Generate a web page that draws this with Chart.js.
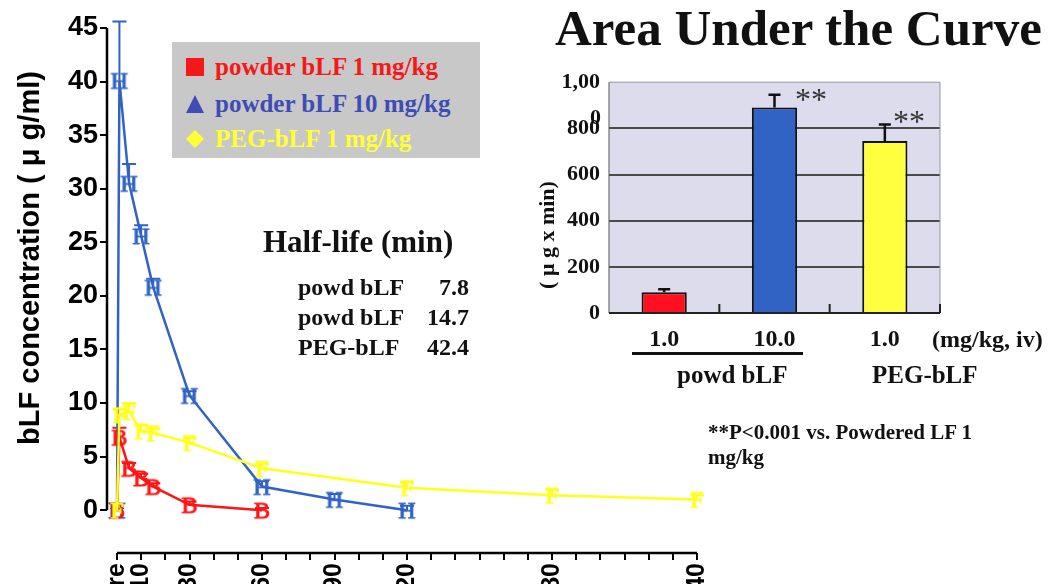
<!DOCTYPE html>
<html lang="en">
<head>
<meta charset="UTF-8">
<title>bLF concentration / AUC</title>
<script src="https://cdn.jsdelivr.net/npm/chart.js"></script>
<style>
html, body { margin: 0; padding: 0; background: #fff; }
#stage { position: relative; width: 1050px; height: 584px; overflow: hidden; background: #fff; }
#stage canvas { position: absolute; }
.t { position: absolute; white-space: nowrap; font-family: "Liberation Serif", "Times New Roman", serif; font-weight: bold; color: #111; }
#legendBox { position: absolute; left: 172px; top: 42px; width: 308px; height: 116px; background: #c8c8c8; }
.mk { position: absolute; }
</style>
</head>
<body>
<div id="stage">
  <canvas id="flowChart" width="1050" height="610" style="left:0;top:0;width:1050px;height:610px"></canvas>
  <canvas id="aucChart" width="450" height="300" style="left:530px;top:60px;width:450px;height:300px"></canvas>

  <div id="legendBox"></div>
  <div id="legendRows"></div>

  <div class="t" style="left:555px;top:3px;font-size:51px;line-height:51px;">Area Under the Curve</div>

  <div class="t" style="left:263px;top:226px;font-size:31px;line-height:31px;">Half-life (min)</div>
  <div id="halfLife"></div>

  <div class="t" style="left:590px;top:106px;font-size:22px;line-height:22px;">0</div>
  <div class="t" style="left:795px;top:83px;font-size:32px;line-height:32px;font-weight:normal;color:#333;">**</div>
  <div class="t" style="left:893px;top:105px;font-size:32px;line-height:32px;font-weight:normal;color:#333;">**</div>
  <div class="t" style="left:932px;top:327px;font-size:24px;line-height:24px;">(mg/kg, iv)</div>
  <div style="position:absolute;left:632px;top:352px;width:171px;height:3px;background:#111;"></div>
  <div class="t" style="left:677px;top:362px;font-size:25px;line-height:25px;">powd bLF</div>
  <div class="t" style="left:872px;top:362px;font-size:25px;line-height:25px;">PEG-bLF</div>
  <div class="t" style="left:708px;top:420px;font-size:21px;line-height:25px;">**P&lt;0.001 vs. Powdered LF 1<br>mg/kg</div>
</div>

<script>
// time course (min) and bLF concentration (ug/ml), mean and error
const redTimes = [0, 1, 5, 10, 15, 30, 60];
const redValues = [0, 6.8, 3.9, 3.0, 2.2, 0.5, 0];
const redErrors = [0.2, 0.9, 0.5, 0.4, 0.3, 0.3, 0.2];

const blueTimes = [0, 1, 5, 10, 15, 30, 60, 90, 120];
const blueValues = [0, 40.1, 30.5, 25.6, 20.8, 10.7, 2.2, 1.0, 0];
const blueErrors = [0.3, 5.5, 1.8, 1.0, 0.8, 0.4, 0.5, 0.5, 0.4];

const pegTimes = [0, 1, 5, 10, 15, 30, 60, 120, 180, 240];
const pegValues = [0, 8.9, 9.2, 7.4, 7.2, 6.3, 3.9, 2.1, 1.4, 1.0];
const pegErrors = [0.3, 0.5, 0.8, 0.5, 0.4, 0.4, 0.4, 0.5, 0.5, 0.4];

const seriesNames = ['powder bLF 1 mg/kg', 'powder bLF 10 mg/kg', 'PEG-bLF 1 mg/kg'];

// axis ticks
const xTickValues = [0, 10, 20, 30, 40, 50, 60, 70, 80, 90, 100, 110, 120, 130, 140, 150, 160, 170, 180, 190, 200, 210, 220, 230, 240];
const labeledTimes = [0, 10, 30, 60, 90, 120, 180, 240];
const labeledText = ['pre', '10', '30', '60', '90', '120', '180', '240'];
const yTickValues = [0, 5, 10, 15, 20, 25, 30, 35, 40, 45];

// half-life table
const halfLifeNames = ['powd bLF', 'powd bLF', 'PEG-bLF'];
const halfLifeValues = ['7.8', '14.7', '42.4'];

// AUC inset
const aucDoses = ['1.0', '10.0', '1.0'];
const aucValues = [90, 890, 745];
const aucErrors = [13, 56, 72];

const RED = '#ff1414', BLUE = '#3163c4', YELLOW = '#ffff1e';

// legend (html)
const legendColors = ['#f51818', '#3d4db5', '#ffff33'];
const legendShapes = ['polygon(0 0,100% 0,100% 100%,0 100%)', 'polygon(50% 0,100% 100%,0 100%)', 'polygon(50% 0,100% 50%,50% 100%,0 50%)'];
const legendRows = document.getElementById('legendRows');
seriesNames.forEach((name, i) => {
  const top = [54, 91, 126][i];
  legendRows.insertAdjacentHTML('beforeend',
    `<div class="mk" style="left:186px;top:${top + 4}px;width:18px;height:18px;background:${legendColors[i]};clip-path:${legendShapes[i]}"></div>` +
    `<div class="t" style="left:215px;top:${top}px;font-size:25px;line-height:25px;color:${legendColors[i]}">${name}</div>`);
});

const halfLife = document.getElementById('halfLife');
halfLifeNames.forEach((name, i) => {
  const top = 275 + i * 30;
  halfLife.insertAdjacentHTML('beforeend',
    `<div class="t" style="left:298px;top:${top}px;font-size:24px;line-height:24px;">${name}</div>` +
    `<div class="t" style="left:409px;width:60px;text-align:right;top:${top}px;font-size:24px;line-height:24px;">${halfLifeValues[i]}</div>`);
});

// letter markers, as they appear in the figure
function letterMarker(ch, color) {
  const c = document.createElement('canvas');
  c.width = 24; c.height = 26;
  const g = c.getContext('2d');
  g.font = '24px "Liberation Serif"';
  g.fillStyle = color;
  g.strokeStyle = color;
  g.lineWidth = 0.9;
  g.textAlign = 'center';
  g.fillText(ch, 12, 21);
  g.strokeText(ch, 12, 21);
  return c;
}

// upper error bars
const errorBars = {
  id: 'errorBars',
  beforeDatasetsDraw(chart) {
    const { ctx, scales: { x, y } } = chart;
    chart.data.datasets.forEach(ds => {
      ctx.save();
      ctx.strokeStyle = ds.borderColor;
      ctx.lineWidth = 2;
      ds.data.forEach((p, i) => {
        const px = x.getPixelForValue(p.x);
        const top = y.getPixelForValue(p.y + ds.errors[i]);
        ctx.beginPath();
        ctx.moveTo(px, y.getPixelForValue(p.y)); ctx.lineTo(px, top);
        ctx.moveTo(px - 7, top); ctx.lineTo(px + 7, top);
        ctx.stroke();
      });
      ctx.restore();
    });
  }
};

const mainAxes = {
  id: 'mainAxes',
  afterDraw(chart) {
    const { ctx, chartArea, scales: { x, y } } = chart;
    ctx.save();
    ctx.strokeStyle = '#000';
    ctx.lineWidth = 2.5;
    ctx.beginPath();
    ctx.moveTo(chartArea.left, y.getPixelForValue(45));
    ctx.lineTo(chartArea.left, y.getPixelForValue(0));
    ctx.moveTo(x.getPixelForValue(0), chartArea.bottom);
    ctx.lineTo(x.getPixelForValue(240), chartArea.bottom);
    ctx.stroke();
    ctx.translate(31, 258);
    ctx.rotate(-Math.PI / 2);
    ctx.fillStyle = '#000';
    ctx.font = 'bold 29px "Liberation Sans"';
    ctx.textAlign = 'center';
    ctx.textBaseline = 'middle';
    ctx.fillText('bLF concentration ( \u03bc g/ml)', 0, 0);
    ctx.restore();
  }
};

function series(times, values, errors, color, letter, order) {
  return {
    data: times.map((t, i) => ({ x: t, y: values[i] })),
    errors: errors,
    borderColor: color,
    borderWidth: 2.5,
    pointStyle: letterMarker(letter, color),
    pointRadius: 9,
    tension: 0,
    clip: false,
    order: order
  };
}

new Chart(document.getElementById('flowChart'), {
  type: 'line',
  data: {
    datasets: [
      series(redTimes, redValues, redErrors, RED, 'B', 1),
      series(blueTimes, blueValues, blueErrors, BLUE, 'H', 2),
      series(pegTimes, pegValues, pegErrors, YELLOW, 'F', 0)
    ]
  },
  options: {
    responsive: false,
    animation: false,
    layout: { padding: { top: 28, right: 353, left: 0, bottom: 0 } },
    plugins: { legend: { display: false }, tooltip: { enabled: false } },
    scales: {
      x: {
        type: 'linear', min: -4.14, max: 240,
        afterBuildTicks: s => { s.ticks = xTickValues.map(v => ({ value: v })); },
        afterFit: s => { s.height = 57; },
        border: { display: false },
        grid: { drawOnChartArea: false, tickLength: 7, color: '#000', lineWidth: 2 },
        ticks: {
          minRotation: 90, maxRotation: 90, autoSkip: false, padding: 3, color: '#000',
          font: { family: 'Liberation Sans', weight: 'bold', size: 25 },
          callback: v => { const k = labeledTimes.indexOf(v); return k < 0 ? '' : labeledText[k]; }
        }
      },
      y: {
        min: -4, max: 45,
        afterBuildTicks: s => { s.ticks = yTickValues.map(v => ({ value: v })); },
        afterFit: s => { s.width = 107; },
        border: { display: false },
        grid: { drawOnChartArea: false, tickLength: 7, color: '#000', lineWidth: 2 },
        ticks: { padding: 2, color: '#000', font: { family: 'Liberation Sans', weight: 'bold', size: 27 } }
      }
    }
  },
  plugins: [errorBars, mainAxes]
});

// inset bar chart
const aucDecor = {
  id: 'aucDecor',
  beforeDraw(chart) {
    const { ctx, chartArea: a } = chart;
    ctx.save();
    ctx.fillStyle = '#dcdcec';
    ctx.fillRect(a.left, a.top, a.width, a.height);
    ctx.restore();
  },
  afterDatasetsDraw(chart) {
    const { ctx, chartArea: a, scales: { x, y } } = chart;
    const ds = chart.data.datasets[0];
    ctx.save();
    ctx.strokeStyle = '#111';
    ctx.lineWidth = 2.5;
    chart.getDatasetMeta(0).data.forEach((bar, i) => {
      const top = y.getPixelForValue(ds.data[i] + ds.errors[i]);
      ctx.beginPath();
      ctx.moveTo(bar.x, bar.y); ctx.lineTo(bar.x, top);
      ctx.moveTo(bar.x - 6, top); ctx.lineTo(bar.x + 6, top);
      ctx.stroke();
    });
    // frame
    ctx.lineWidth = 1;
    ctx.strokeStyle = '#999';
    ctx.beginPath();
    ctx.moveTo(a.left, a.top); ctx.lineTo(a.right, a.top); ctx.lineTo(a.right, a.bottom);
    ctx.stroke();
    ctx.strokeStyle = '#555';
    ctx.beginPath();
    ctx.moveTo(a.left, a.top); ctx.lineTo(a.left, a.bottom);
    ctx.stroke();
    ctx.strokeStyle = '#222';
    ctx.lineWidth = 2;
    ctx.beginPath();
    ctx.moveTo(a.left, a.bottom); ctx.lineTo(a.right, a.bottom);
    for (let i = 0; i < aucDoses.length; i++) {
      const bx = i < aucDoses.length - 1 ? (x.getPixelForValue(i) + x.getPixelForValue(i + 1)) / 2 : a.right;
      ctx.moveTo(bx, a.bottom); ctx.lineTo(bx, a.bottom - 9);
    }
    ctx.stroke();
    // y title
    ctx.translate(18, 175);
    ctx.rotate(-Math.PI / 2);
    ctx.fillStyle = '#111';
    ctx.font = 'bold 22px "Liberation Serif"';
    ctx.textAlign = 'center';
    ctx.textBaseline = 'middle';
    ctx.fillText('( \u03bc g x min)', 0, 0);
    ctx.restore();
  }
};

new Chart(document.getElementById('aucChart'), {
  type: 'bar',
  data: {
    labels: aucDoses,
    datasets: [{
      data: aucValues,
      errors: aucErrors,
      backgroundColor: ['#ff1020', '#3163c4', '#ffff40'],
      borderColor: '#111',
      borderWidth: 2,
      barPercentage: 0.41,
      categoryPercentage: 1
    }]
  },
  options: {
    responsive: false,
    animation: false,
    layout: { padding: { top: 20.5, right: 40, left: 0, bottom: 0 } },
    plugins: { legend: { display: false }, tooltip: { enabled: false } },
    scales: {
      x: {
        afterFit: s => { s.height = 47; },
        border: { display: false },
        grid: { display: false },
        ticks: { padding: 4, color: '#111', font: { family: 'Liberation Serif', weight: 'bold', size: 24 } }
      },
      y: {
        min: 0, max: 1000,
        afterFit: s => { s.width = 79; },
        border: { display: false },
        grid: { color: c => (c.tick.value > 0 && c.tick.value < 1000) ? '#4a4a4a' : 'rgba(0,0,0,0)', lineWidth: 2, drawTicks: false },
        ticks: { stepSize: 200, padding: 9, color: '#111', font: { family: 'Liberation Serif', weight: 'bold', size: 22 }, callback: v => v === 1000 ? '1,00' : v }
      }
    }
  },
  plugins: [aucDecor]
});
</script>
</body>
</html>
